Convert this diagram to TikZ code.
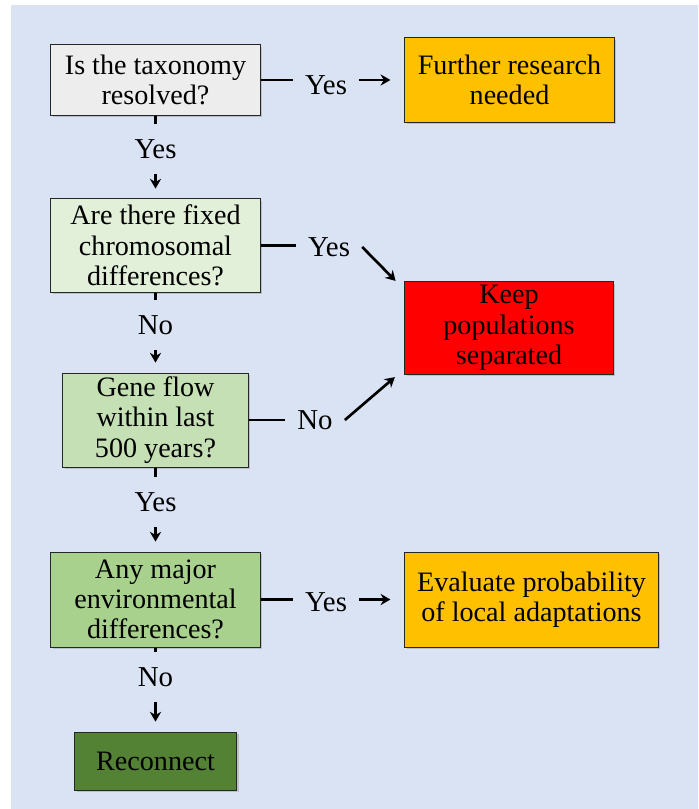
\documentclass[tikz,border=0pt]{standalone}
\usepackage{fontspec}
\setmainfont{Liberation Serif}
\usetikzlibrary{arrows.meta,shadows}
\definecolor{bgblue}{HTML}{DAE3F3}
\definecolor{boxgray}{HTML}{EDEDED}
\definecolor{boxgold}{HTML}{FFC000}
\definecolor{greenA}{HTML}{E2F0D9}
\definecolor{greenB}{HTML}{C5E0B4}
\definecolor{greenC}{HTML}{A9D18E}
\definecolor{greenD}{HTML}{548235}

\begin{document}
\begin{tikzpicture}[x=0.025cm,y=-0.025cm,
  box/.style={draw=black!85,line width=0.7pt,align=center,inner sep=2pt,
    drop shadow={shadow xshift=1.6pt,shadow yshift=-1.6pt,opacity=0.35},
    font=\fontsize{20}{21.5}\selectfont},
  lbl/.style={font=\fontsize{20.5}{21.5}\selectfont,inner xsep=8.5pt,inner ysep=11pt},
  link/.style={line width=1.9pt},
  flow/.style={line width=1.9pt,shorten >=7pt,-{Stealth[length=7pt,width=8pt]}}]
  \useasboundingbox (0,0) rectangle (698,809);
  \fill[white] (0,0) rectangle (698,809);
  \fill[bgblue] (11,5) rectangle (698,809);

  % boxes
  \node[box,fill=boxgray,minimum width=5.225cm,minimum height=1.75cm] (q1) at (155.5,80)
    {Is the taxonomy\\resolved?};
  \node[box,fill=boxgold,minimum width=5.225cm,minimum height=2.1cm] (res) at (509.5,80)
    {Further research\\needed};
  \node[box,fill=greenA,minimum width=5.225cm,minimum height=2.325cm] (q2) at (155.5,245.5)
    {Are there fixed\\chromosomal\\differences?};
  \node[box,fill=red,minimum width=5.2cm,minimum height=2.3cm] (keep) at (509,328)
    {Keep\\populations\\separated};
  \node[box,fill=greenB,minimum width=4.625cm,minimum height=2.35cm] (q3) at (155.5,420)
    {Gene flow\\within last\\500 years?};
  \node[box,fill=greenC,minimum width=5.225cm,minimum height=2.375cm] (q4) at (155.5,599.5)
    {Any major\\environmental\\differences?};
  \node[box,fill=boxgold,minimum width=6.325cm,minimum height=2.375cm] (eval) at (531.5,599.5)
    {Evaluate probability\\of local adaptations};
  \node[box,fill=greenD,minimum width=4.05cm,minimum height=1.45cm] (reco) at (155.5,761)
    {Reconnect};

  % answers
  \node[lbl] (y1) at (155.5,149) {Yes};
  \node[lbl] (n1) at (155.5,325) {No};
  \node[lbl] (y2) at (155.5,502) {Yes};
  \node[lbl] (n2) at (155.5,677) {No};
  \node[lbl] (yes0) at (326,85) {Yes};
  \node[lbl] (yes2) at (329,247) {Yes};
  \node[lbl] (no1) at (315,420) {No};
  \node[lbl] (yes3) at (326,602) {Yes};

  % down the left column
  \draw[link] (q1) -- (y1);
  \draw[flow] (y1) -- (q2);
  \draw[link] (q2) -- (n1);
  \draw[flow] (n1) -- (q3);
  \draw[link] (q3) -- (y2);
  \draw[flow] (y2) -- (q4);
  \draw[link] (q4) -- (n2);
  \draw[flow] (n2) -- (reco);

  % to the right
  \draw[link] (q1.east) -- (q1.east -| yes0.west);
  \draw[flow,shorten >=10pt] (yes0.east |- res.west) -- (res.west);
  \draw[link] (q2.east) -- (q2.east -| yes2.west);
  \draw[flow,shorten >=9pt] (yes2.east) -- ([yshift=-6pt]keep.north west);
  \draw[link] (q3.east) -- (q3.east -| no1.west);
  \draw[flow,shorten >=9pt] (no1.east) -- ([yshift=4pt]keep.south west);
  \draw[link] (q4.east) -- (q4.east -| yes3.west);
  \draw[flow,shorten >=10pt] (yes3.east |- eval.west) -- (eval.west);
\end{tikzpicture}
\end{document}
